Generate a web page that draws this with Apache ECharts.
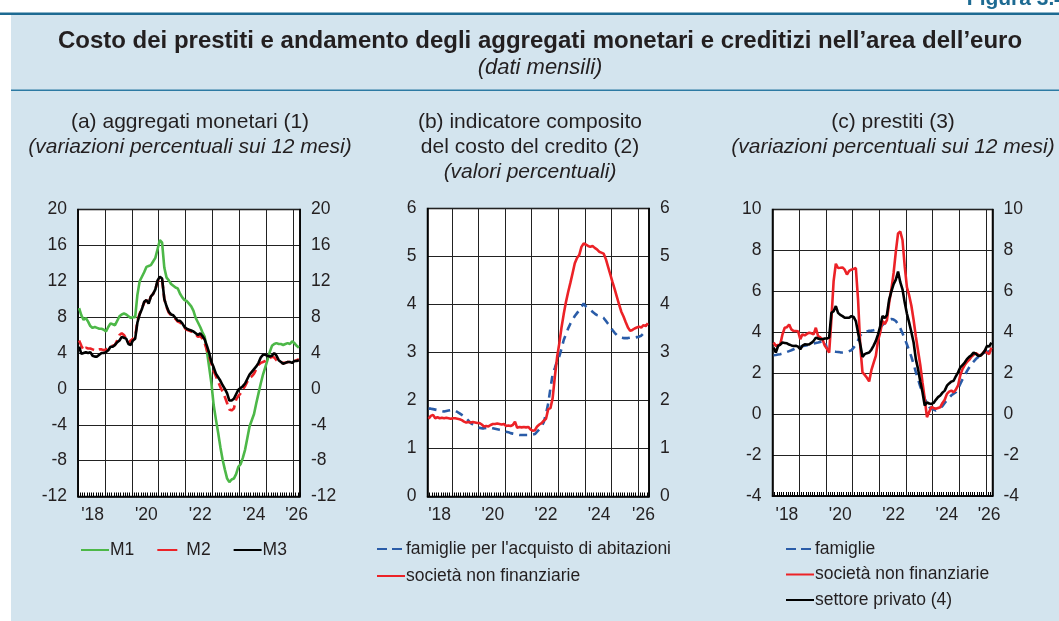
<!DOCTYPE html>
<html>
<head>
<meta charset="utf-8">
<script src="https://cdn.jsdelivr.net/npm/echarts@6/dist/echarts.min.js"></script>
<style>
  html, body { margin: 0; padding: 0; background: #fff; }
  #chart { width: 1059px; height: 621px; }
</style>
</head>
<body>
<div id="chart"></div>
<script>
// monthly categories
function monthRange(from, to) {
  const out = []
  let [y, m] = from.split('-').map(Number)
  const [ty, tm] = to.split('-').map(Number)
  while (y < ty || (y === ty && m <= tm)) {
    out.push(y + '-' + String(m).padStart(2, '0'))
    m++
    if (m > 12) { m = 1; y++ }
  }
  return out
}
const monthsA = monthRange('2018-01', '2026-03')
const monthsB = monthRange('2018-02', '2026-05')
const monthsC = monthRange('2018-01', '2026-03')

// (a) aggregati monetari, var. % sui 12 mesi
const m1 = [
  9.0, 8.2, 7.7, 7.9, 7.5, 7.0, 6.8, 6.9, 6.8, 6.7, 6.7, 6.6,
  6.4, 6.9, 7.3, 7.2, 7.1, 7.6, 8.1, 8.3, 8.4, 8.3, 8.1, 7.9,
  8.0, 8.0, 10.5, 12.0, 12.5, 13.0, 13.6, 13.7, 13.8, 14.2, 14.6, 15.6,
  16.6, 16.3, 13.5, 12.4, 12.1, 11.7, 11.5, 11.3, 11.2, 10.6, 10.2, 9.9,
  9.8, 9.5, 9.2, 8.7, 7.9, 7.4, 6.9, 6.3, 5.8, 4.2, 2.4, 0.6,
  -1.8, -3.4, -4.9, -6.5, -7.9, -9.0, -10.0, -10.4, -10.1, -10.0, -9.5, -8.7,
  -8.4, -7.7, -6.8, -5.5, -4.2, -3.5, -2.8, -1.6, -0.5, 0.6, 1.6, 2.4,
  3.2, 4.1, 4.8, 5.0, 5.1, 5.0, 5.0, 4.9, 5.0, 5.1, 5.0, 5.3,
  5.1, 4.8, 4.6
]
const m2 = [
  5.4, 4.8, 4.3, 4.6, 4.5, 4.5, 4.4, 4.3, 4.3, 4.4, 4.4, 4.3,
  4.4, 4.6, 4.7, 4.8, 4.9, 5.4, 6.0, 6.2, 6.0, 5.6, 5.1, 5.4,
  5.6, 5.8, 7.6, 8.4, 9.0, 9.6, 9.9, 9.6, 10.3, 10.6, 11.1, 12.0,
  12.4, 12.2, 10.0, 9.1, 8.5, 8.2, 8.0, 7.8, 7.5, 7.4, 7.1, 6.8,
  6.6, 6.5, 6.4, 6.3, 6.1, 5.8, 5.9, 5.6, 5.1, 4.3, 3.6, 2.8,
  2.0, 1.4, 0.8, 0.2, -0.3, -0.9, -1.6, -2.3, -2.4, -2.2, -1.2, -0.8,
  -0.5, -0.1, 0.3, 0.8, 1.2, 1.4, 1.7, 2.2, 2.7, 2.9, 3.0, 3.1,
  3.2, 3.4, 3.6, 3.5, 3.2, 3.0, 2.9, 2.9, 2.9, 3.0, 3.0, 3.0,
  3.1, 3.2, 3.3
]
const m3 = [
  4.7, 3.9, 4.0, 4.1, 4.0, 4.1, 3.7, 3.6, 3.6, 3.8, 4.0, 4.0,
  4.1, 4.3, 4.7, 4.7, 4.9, 5.2, 5.4, 5.8, 5.7, 5.6, 5.0, 4.9,
  5.4, 5.6, 7.4, 8.3, 8.9, 9.7, 9.9, 9.5, 10.3, 10.6, 11.1, 12.1,
  12.5, 12.3, 10.0, 9.2, 8.6, 8.3, 8.2, 7.9, 7.6, 7.6, 7.3, 6.9,
  6.7, 6.6, 6.5, 6.4, 6.2, 6.0, 6.2, 5.9, 5.5, 4.8, 4.0, 3.0,
  2.4, 1.7, 1.3, 0.9, 0.4, 0.0, -0.5, -1.3, -1.3, -1.1, -0.6, -0.1,
  0.1, 0.3, 0.6, 1.1, 1.6, 1.9, 2.2, 2.5, 2.9, 3.5, 3.8, 3.8,
  3.7, 3.6, 3.7, 4.0, 3.7, 3.2, 3.0, 2.8, 2.9, 3.0, 3.0, 2.9,
  3.1, 3.1, 3.2
]

// (b) indicatore composito del costo del credito, valori %
const costoFamiglie = [
  1.83, 1.83, 1.82, 1.81, 1.80, 1.79, 1.78, 1.77, 1.78, 1.79, 1.80,
  1.80, 1.79, 1.76, 1.73, 1.70, 1.67, 1.63, 1.58, 1.53, 1.50, 1.47, 1.45,
  1.43, 1.42, 1.42, 1.43, 1.44, 1.43, 1.42, 1.41, 1.40, 1.39, 1.38, 1.37,
  1.35, 1.34, 1.32, 1.31, 1.30, 1.29, 1.28, 1.28, 1.28, 1.28, 1.28, 1.28,
  1.29, 1.30, 1.35, 1.40, 1.46, 1.55, 1.72, 1.94, 2.25, 2.55, 2.68, 2.82,
  2.92, 3.08, 3.26, 3.38, 3.50, 3.60, 3.68, 3.76, 3.82, 3.88, 3.95, 4.02,
  3.96, 3.92, 3.89, 3.85, 3.81, 3.78, 3.77, 3.75, 3.72, 3.66, 3.60, 3.54,
  3.47, 3.41, 3.36, 3.33, 3.31, 3.30, 3.30, 3.30, 3.31, 3.31, 3.31, 3.32,
  3.33, 3.35, 3.40
]
const costoImprese = [
  1.62, 1.68, 1.70, 1.63, 1.65, 1.63, 1.64, 1.63, 1.64, 1.63, 1.62,
  1.63, 1.63, 1.62, 1.61, 1.59, 1.56, 1.54, 1.55, 1.54, 1.55, 1.54, 1.53,
  1.53, 1.50, 1.46, 1.47, 1.46, 1.49, 1.51, 1.51, 1.52, 1.51, 1.50, 1.51,
  1.47, 1.48, 1.47, 1.49, 1.56, 1.43, 1.45, 1.44, 1.45, 1.44, 1.45, 1.40,
  1.37, 1.38, 1.46, 1.50, 1.53, 1.58, 1.62, 1.82, 1.84, 2.05, 2.50, 2.90,
  3.19, 3.52, 3.80, 4.05, 4.26, 4.45, 4.65, 4.86, 4.97, 5.03, 5.20, 5.27,
  5.25, 5.22, 5.20, 5.22, 5.18, 5.15, 5.10, 5.08, 5.06, 4.95, 4.79, 4.63,
  4.47, 4.32, 4.16, 4.00, 3.85, 3.75, 3.63, 3.52, 3.45, 3.47, 3.50, 3.52,
  3.54, 3.52, 3.57, 3.55, 3.61
]

// (c) prestiti, var. % sui 12 mesi
const prestitiFamiglie = [
  2.88, 2.89, 2.91, 2.93, 2.96, 3.00, 3.04, 3.08, 3.12, 3.17, 3.23, 3.27,
  3.29, 3.32, 3.34, 3.37, 3.40, 3.42, 3.45, 3.48, 3.50, 3.53, 3.56, 3.58,
  3.20, 3.15, 3.10, 3.08, 3.05, 3.04, 3.02, 3.01, 3.02, 3.04, 3.08, 3.12,
  3.25, 3.40, 3.60, 3.85, 3.98, 4.00, 4.04, 4.07, 4.08, 4.10, 4.13, 4.16,
  4.25, 4.35, 4.45, 4.55, 4.62, 4.65, 4.62, 4.55, 4.40, 4.20, 3.95, 3.70,
  3.40, 3.10, 2.80, 2.45, 2.05, 1.70, 1.35, 1.05, 0.75, 0.55, 0.35, 0.26,
  0.22, 0.18, 0.22, 0.30, 0.40, 0.55, 0.68, 0.80, 0.92, 1.00, 1.07, 1.25,
  1.48, 1.70, 1.90, 2.10, 2.28, 2.45, 2.57, 2.69, 2.78, 2.88, 2.95, 3.01,
  3.04, 3.07, 3.10
]
const prestitiImprese = [
  3.50, 3.33, 3.38, 3.41, 3.90, 4.22, 4.25, 4.38, 4.14, 4.06, 4.06, 4.05,
  3.66, 3.90, 3.85, 3.92, 3.98, 3.95, 3.90, 4.22, 3.82, 3.75, 3.66, 3.35,
  3.20, 3.01, 4.63, 6.50, 7.35, 7.14, 7.15, 7.17, 7.06, 6.82, 7.00, 7.06,
  7.10, 7.14, 5.60, 3.30, 2.04, 1.92, 1.78, 1.60, 2.15, 2.50, 2.85, 3.60,
  4.00, 4.55, 4.40, 4.60, 5.44, 6.10, 6.90, 7.94, 8.83, 8.92, 8.51, 7.22,
  6.20, 5.80, 5.30, 4.60, 3.80, 3.10, 2.40, 1.55, 0.75, -0.15, 0.10, 0.35,
  0.30, 0.26, 0.30, 0.34, 0.55, 0.70, 0.99, 1.10, 1.15, 1.07, 1.20, 1.40,
  1.90, 2.20, 2.40, 2.55, 2.65, 2.80, 2.90, 2.98, 2.90, 2.85, 2.95, 3.09,
  3.00, 2.93, 3.25
]
const prestitiPrivato = [
  3.25, 3.01, 3.33, 3.40, 3.50, 3.48, 3.46, 3.40, 3.36, 3.33, 3.34, 3.30,
  3.17, 3.35, 3.41, 3.40, 3.41, 3.48, 3.58, 3.74, 3.70, 3.66, 3.66, 3.70,
  3.70, 3.74, 4.95, 5.03, 5.28, 4.95, 4.85, 4.79, 4.71, 4.71, 4.71, 4.79,
  4.75, 4.55, 3.98, 3.40, 2.80, 2.93, 2.98, 3.01, 3.15, 3.35, 3.58, 3.90,
  4.30, 4.79, 4.70, 4.85, 5.60, 6.00, 6.35, 6.57, 6.97, 6.45, 6.10, 5.45,
  4.90, 4.47, 4.00, 3.50, 2.69, 2.20, 1.60, 1.07, 0.42, 0.58, 0.52, 0.50,
  0.55, 0.70, 0.83, 0.91, 1.05, 1.15, 1.39, 1.50, 1.59, 1.63, 1.85, 2.04,
  2.28, 2.40, 2.52, 2.69, 2.80, 2.88, 3.01, 2.95, 2.85, 2.85, 2.95, 3.09,
  3.33, 3.30, 3.50
]

const GREEN = '#4db848'
const RED = '#ec2227'
const BLUE = '#2a5ca8'
const FONT = '"Liberation Sans", Arial, Helvetica, sans-serif'
const TXT = '#231f20'

// labels: mid-year of even years, plus the middle of the last partial year
function labelSet(months) {
  const set = new Set(months.filter(m => +m.slice(0, 4) % 2 === 0 && m.endsWith('-07')))
  const lastYear = months[months.length - 1].slice(0, 4)
  const tail = months.filter(m => m.startsWith(lastYear))
  if (tail.length < 12) set.add(tail[Math.floor(tail.length / 2)])
  return set
}

function xAxis(gridIndex, months) {
  const labels = labelSet(months)
  return {
    type: 'category',
    gridIndex,
    data: months,
    boundaryGap: true,
    axisLine: { show: true, onZero: false, lineStyle: { color: '#000', width: 1.5 } },
    axisTick: { show: true, inside: true, interval: 0, length: 4, lineStyle: { color: '#000', width: 1 } },
    axisLabel: {
      interval: (i, v) => labels.has(v),
      formatter: v => "'" + v.slice(2, 4),
      color: TXT, fontSize: 17.5, fontFamily: FONT, margin: 10,
    },
    splitLine: {
      show: true,
      interval: (i, v) => v.endsWith('-01'),
      lineStyle: { color: '#222', width: 1 },
    },
  }
}

function yAxes(gridIndex, min, max, interval) {
  const base = {
    type: 'value', gridIndex, min, max, interval,
    axisLine: { show: true, lineStyle: { color: '#000', width: 1.5 } },
    axisTick: { show: false },
    axisLabel: { color: TXT, fontSize: 17.5, fontFamily: FONT, margin: 11 },
  }
  return [
    { ...base, position: 'left', splitLine: { show: true, lineStyle: { color: '#222', width: 1 } } },
    { ...base, position: 'right', splitLine: { show: false } },
  ]
}

function line(name, data, gridIdx, color, dash) {
  return {
    name, type: 'line', data,
    xAxisIndex: gridIdx, yAxisIndex: gridIdx * 2,
    symbol: 'none', showSymbol: false,
    lineStyle: { color, width: 2.6, type: dash || 'solid' },
    itemStyle: { color },
    emphasis: { disabled: true },
  }
}

function txt(text, x, y, font, extra) {
  return { type: 'text', x, y, style: Object.assign({ text, font, fill: TXT, textAlign: 'center', textVerticalAlign: 'middle' }, extra || {}) }
}

const legendBase = {
  padding: 0, itemWidth: 28, itemHeight: 14, selectedMode: false,
  itemStyle: { opacity: 0 },
  textStyle: { color: TXT, fontSize: 17.5, fontFamily: FONT, padding: [0, 0, 0, -4] },
}

const chart = echarts.init(document.getElementById('chart'))
chart.setOption({
  animation: false,
  backgroundColor: '#fff',
  graphic: [
    { type: 'rect', shape: { x: 11, y: 14, width: 1060, height: 620 }, style: { fill: '#d3e4ee' }, z: -10 },
    { type: 'rect', shape: { x: 0, y: 12.5, width: 1059, height: 2.5 }, style: { fill: '#1d6a92' }, z: -5 },
    { type: 'rect', shape: { x: 11, y: 89.5, width: 1048, height: 1.5 }, style: { fill: '#2c7aa3' }, z: -5 },
    txt('Figura 3.4', 1066, 10, 'bold 21px ' + FONT, { fill: '#1d6a92', textAlign: 'right', textVerticalAlign: 'bottom' }),
    txt('Costo dei prestiti e andamento degli aggregati monetari e creditizi nell\u2019area dell\u2019euro', 540, 41, 'bold 24px ' + FONT),
    txt('(dati mensili)', 540, 68, 'italic 22px ' + FONT),
    txt('(a) aggregati monetari (1)', 190, 122, '21px ' + FONT),
    txt('(variazioni percentuali sui 12 mesi)', 190, 147, 'italic 21px ' + FONT),
    txt('(b) indicatore composito', 530, 122, '21px ' + FONT),
    txt('del costo del credito (2)', 530, 147, '21px ' + FONT),
    txt('(valori percentuali)', 530, 172, 'italic 21px ' + FONT),
    txt('(c) prestiti (3)', 893, 122, '21px ' + FONT),
    txt('(variazioni percentuali sui 12 mesi)', 893, 147, 'italic 21px ' + FONT),
  ],
  grid: [
    { left: 78, top: 209.5, width: 222, height: 287, show: true, backgroundColor: '#fff', borderColor: '#000', borderWidth: 1.5 },
    { left: 427.5, top: 208.5, width: 221.5, height: 288, show: true, backgroundColor: '#fff', borderColor: '#000', borderWidth: 1.5 },
    { left: 772.5, top: 209.5, width: 220, height: 286.5, show: true, backgroundColor: '#fff', borderColor: '#000', borderWidth: 1.5 },
  ],
  xAxis: [xAxis(0, monthsA), xAxis(1, monthsB), xAxis(2, monthsC)],
  yAxis: [...yAxes(0, -12, 20, 4), ...yAxes(1, 0, 6, 1), ...yAxes(2, -4, 10, 2)],
  legend: [
    {
      ...legendBase, orient: 'horizontal', left: 80, top: 541, itemGap: 22,
      data: ['M1', { name: 'M2', lineStyle: { type: [20, 8] } }, 'M3'],
    },
    {
      ...legendBase, orient: 'vertical', left: 376, top: 540, itemGap: 9,
      data: [{ name: "famiglie per l'acquisto di abitazioni", lineStyle: { type: [10, 5] } }, 'società non finanziarie'],
    },
    {
      ...legendBase, orient: 'vertical', left: 785, top: 540, itemGap: 7.5,
      data: [{ name: 'famiglie', lineStyle: { type: [10, 5] } }, 'società non finanziarie', 'settore privato (4)'],
    },
  ],
  series: [
    line('M1', m1, 0, GREEN),
    line('M2', m2, 0, RED, [9, 5]),
    line('M3', m3, 0, '#000'),
    line("famiglie per l'acquisto di abitazioni", costoFamiglie, 1, BLUE, [8, 6]),
    line('società non finanziarie', costoImprese, 1, RED),
    line('famiglie', prestitiFamiglie, 2, BLUE, [8, 6]),
    line('società non finanziarie', prestitiImprese, 2, RED),
    line('settore privato (4)', prestitiPrivato, 2, '#000'),
  ],
})
</script>
</body>
</html>
